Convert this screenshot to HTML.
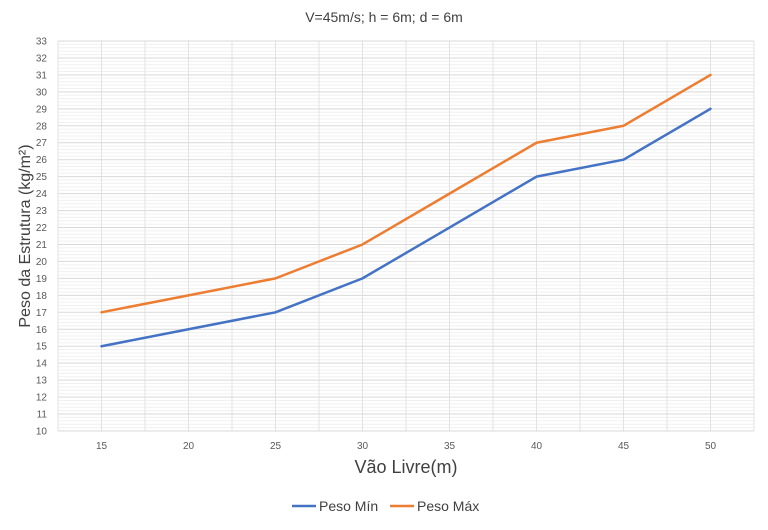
<!DOCTYPE html>
<html><head><meta charset="utf-8"><style>
body{margin:0;background:#fff;font-family:"Liberation Sans",sans-serif}
</style></head><body>
<svg id="c" width="768" height="525" xmlns="http://www.w3.org/2000/svg">
<rect width="768" height="525" fill="#fff"/>
<text x="384" y="22" text-anchor="middle" font-size="14" fill="#404040">V=45m/s; h = 6m; d = 6m</text>
<g id="grid"></g>
<g id="yt"></g>
<g id="xt"></g>
<g id="ser"></g>
<text x="406" y="473" text-anchor="middle" font-size="18" fill="#404040">Vão Livre(m)</text>
<text transform="translate(30,236) rotate(-90)" text-anchor="middle" font-size="16" fill="#404040">Peso da Estrutura (kg/m²)</text>
<g>
<line x1="292" y1="506" x2="316" y2="506" stroke="#4472C4" stroke-width="2.5"/>
<text x="319" y="511" font-size="14" fill="#404040">Peso Mín</text>
<line x1="390" y1="506" x2="414" y2="506" stroke="#ED7D31" stroke-width="2.5"/>
<text x="417" y="511" font-size="14" fill="#404040">Peso Máx</text>
</g>
</svg>
<script>
const categories=[15,20,25,30,35,40,45,50];
const pesoMin=[15,16,17,19,22,25,26,29];
const pesoMax=[17,18,19,21,24,27,28,31];
const yTicks=[10,11,12,13,14,15,16,17,18,19,20,21,22,23,24,25,26,27,28,29,30,31,32,33];
const L=58,R=754,T=41,B=431,yMin=10,yMax=33;
const NS="http://www.w3.org/2000/svg";
const bw=(R-L)/categories.length;
const xs=i=>L+bw*(i+0.5);
const ys=v=>B-(v-yMin)/(yMax-yMin)*(B-T);
function mk(t,a,p){const e=document.createElementNS(NS,t);for(const k in a)e.setAttribute(k,a[k]);p.appendChild(e);return e;}
const g=document.getElementById('grid');
for(let v=yMin;v<yMax;v+=1){for(let m=1;m<5;m++){const l=mk('line',{x1:L,x2:R,y1:ys(v+m/5),y2:ys(v+m/5),stroke:'#f0f0f0','stroke-width':1},g);

}}
for(let k=0;k<=categories.length*2;k++){const x=L+bw/2*k;const l=mk('line',{x1:x,x2:x,y1:T,y2:B,stroke:'#e3e3e3','stroke-width':1},g);

}
const yt=document.getElementById('yt');
yTicks.forEach(v=>{const l=mk('line',{x1:L,x2:R,y1:ys(v),y2:ys(v),stroke:'#d9d9d9','stroke-width':1},g);


const t=mk('text',{x:47,y:ys(v)+3.5,'text-anchor':'end','font-size':10,fill:'#595959'},yt);t.textContent=v;

});
const xt=document.getElementById('xt');
categories.forEach((c,i)=>{const t=mk('text',{x:xs(i),y:449,'text-anchor':'middle','font-size':10,fill:'#595959'},xt);t.textContent=c;

});
const s=document.getElementById('ser');
[[pesoMin,'#4472C4','series-peso-min'],[pesoMax,'#ED7D31','series-peso-max']].forEach(([d,c,n])=>{
const p=mk('polyline',{points:d.map((v,i)=>xs(i)+','+ys(v)).join(' '),fill:'none',stroke:c,'stroke-width':2.5,'stroke-linejoin':'round','stroke-linecap':'round'},s);

});
</script>
</body></html>
